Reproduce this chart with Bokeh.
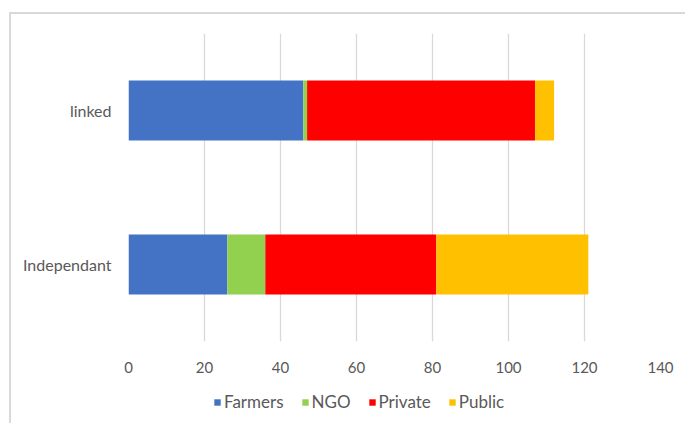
from bokeh.plotting import figure
from bokeh.models import FactorRange, Legend, LegendItem, SingleIntervalTicker, ColumnDataSource
from bokeh.layouts import column
from bokeh.embed import file_html
from bokeh.resources import INLINE

categories = ["Independant", "linked"]
series = ["Farmers", "NGO", "Private", "Public"]
farmers = [26, 46]
ngo = [10, 1]
private = [45, 60]
public = [40, 5]
colors = ["#4472C4", "#92D050", "#FF0000", "#FFC000"]

source = ColumnDataSource({"cat": categories, "Farmers": farmers, "NGO": ngo,
                           "Private": private, "Public": public})

FONT = "Lato"
TXT = "#595959"

p = figure(width=674, height=371, y_range=FactorRange(*categories), x_range=(0, 140),
           output_backend="svg", toolbar_location=None,
           min_border_left=117, min_border_right=25, min_border_top=19, min_border_bottom=44)

p.hbar_stack(series, y="cat", height=0.39, color=colors, source=source, line_color=None)

p.outline_line_color = None
p.ygrid.grid_line_color = None
p.xgrid.grid_line_color = "#D9D9D9"
p.xgrid.grid_line_width = 1.3
p.xaxis.ticker = SingleIntervalTicker(interval=20)
for ax in (p.xaxis[0], p.yaxis[0]):
    ax.axis_line_color = None
    ax.major_tick_line_color = None
    ax.minor_tick_line_color = None
    ax.major_label_text_color = TXT
    ax.major_label_text_font = FONT
p.xaxis.major_label_text_font_size = "15px"
p.yaxis.major_label_text_font_size = "16px"
p.xaxis.major_label_standoff = 14
p.yaxis.major_label_standoff = 11

# legend strip under the chart (its frame is aligned with the chart's frame)
lg = figure(width=674, height=38, y_range=FactorRange(*categories), x_range=(0, 140),
            output_backend="svg", toolbar_location=None,
            min_border_left=117, min_border_right=25, min_border_top=0, min_border_bottom=0)
lg.axis.visible = False
lg.grid.visible = False
lg.outline_line_color = None
rs = lg.hbar_stack(series, y="cat", height=0, color=colors, source=source, line_color=None)

legend = Legend(items=[LegendItem(label=s, renderers=[r]) for s, r in zip(series, rs)],
                orientation="horizontal", location=(85, 11),
                label_text_font=FONT, label_text_font_size="17px", label_text_color=TXT,
                glyph_width=8, glyph_height=8, label_standoff=3, spacing=17,
                border_line_color=None, background_fill_alpha=0, padding=0, margin=0)
lg.add_layout(legend, "center")

layout = column(p, lg, spacing=0,
                styles={"border-left": "2px solid #D9D9D9", "border-top": "2px solid #D9D9D9",
                        "margin-left": "9px", "margin-top": "12px"})

open("out.html", "w").write(file_html(layout, INLINE))
